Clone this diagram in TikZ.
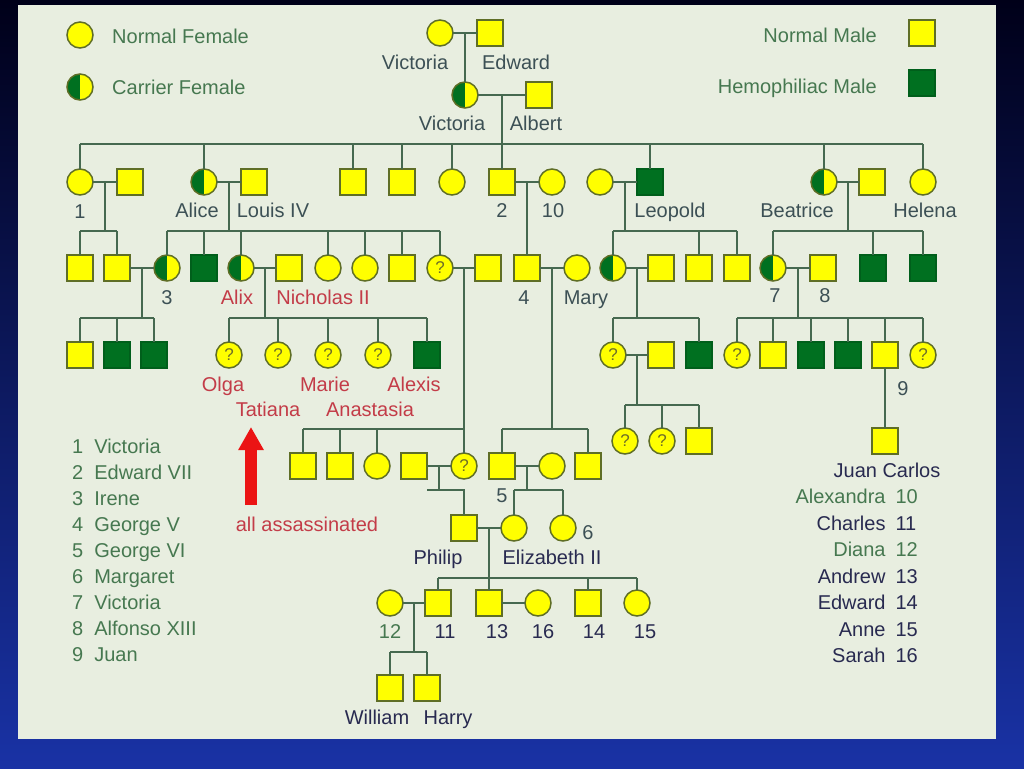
\documentclass[tikz,border=0pt]{standalone}
\usepackage{fontspec}
\setmainfont{Liberation Sans}
\usetikzlibrary{calc}
\usetikzlibrary{arrows.meta}

\definecolor{panel}{RGB}{232,238,224}
\definecolor{ylw}{RGB}{255,255,0}
\definecolor{rim}{RGB}{95,110,38}
\definecolor{hgreen}{RGB}{0,112,32}
\definecolor{wire}{RGB}{70,105,80}
\definecolor{txtgreen}{RGB}{70,120,80}
\definecolor{txtgray}{RGB}{60,80,85}
\definecolor{txtnavy}{RGB}{40,42,80}
\definecolor{txtred}{RGB}{195,60,72}
\definecolor{arrred}{RGB}{235,20,20}
\definecolor{qmark}{RGB}{110,110,40}
\definecolor{bgtop}{RGB}{0,0,25}
\definecolor{bgbot}{RGB}{25,50,165}

\tikzstyle{person}=[draw=rim,line width=1.5pt,fill=ylw,inner sep=0,outer sep=0,minimum size=26pt]
\tikzstyle{male}=[person,rectangle]
\tikzstyle{hemo}=[person,rectangle,fill=hgreen,draw=hgreen!85!black]
\tikzstyle{fem}=[person,circle]
\tikzstyle{carrier}=[fem,path picture={\fill[hgreen] (path picture bounding box.south west) rectangle (path picture bounding box.north);}]
\tikzstyle{unk}=[fem,font=\fontsize{17}{17}\selectfont,text=qmark]
\tikzstyle{link}=[draw=wire,line width=2pt]
\tikzstyle{lbl}=[font=\fontsize{20}{23}\selectfont,inner sep=0,text height=14pt,text depth=0pt]
\tikzstyle{keylist}=[font=\fontsize{20}{26}\selectfont,inner sep=0]

\begin{document}
\begin{tikzpicture}[x=1pt,y=-1pt]
% background and panel
\shade[top color=bgtop,bottom color=bgbot] (0,0) rectangle (1024,768);
\fill[panel] (18,5) rectangle (996,739);

% key
\node[fem] (keyF) at (80,35) {};
\node[carrier] (keyC) at (80,87) {};
\node[male] (keyM) at (922,33) {};
\node[hemo] (keyH) at (922,83) {};
\node[lbl,text=txtgreen,anchor=west] (tKeyF) at (112,37) {Normal Female};
\node[lbl,text=txtgreen,anchor=west] (tKeyC) at (112,87) {Carrier Female};
\node[lbl,text=txtgreen,anchor=east] (tKeyM) at (877,36) {Normal Male};
\node[lbl,text=txtgreen,anchor=east] (tKeyH) at (877,86) {Hemophiliac Male};

% generation I
\node[fem] (vicA) at (440,33) {};
\node[male] (edwA) at (490,33) {};
\node[carrier] (vicB) at (465,95) {};
\node[male] (alb) at (539,95) {};
\draw[link] (vicA) -- (edwA);
\coordinate (mA) at ($(vicA)!0.5!(edwA)$);
\draw[link] (mA) -- (mA |- vicB.north);
\draw[link] (vicB) -- (alb);
\coordinate (mB) at ($(vicB)!0.5!(alb)$);

% generation II
\node[fem] (vicC) at (80,182) {};
\node[male] (fri) at (130,182) {};
\node[carrier] (ali) at (204,182) {};
\node[male] (lou) at (254,182) {};
\node[male] (sA) at (353,182) {};
\node[male] (sB) at (402,182) {};
\node[fem] (dA) at (452,182) {};
\node[male] (edw7) at (502,182) {};
\node[fem] (alx) at (552,182) {};
\node[fem] (leoW) at (600,182) {};
\node[hemo] (leo) at (650,182) {};
\node[carrier] (bea) at (824,182) {};
\node[male] (hen) at (872,182) {};
\node[fem] (hel) at (923,182) {};
\coordinate (barB) at (0,144);
\draw[link] (mB) -- (mB |- edw7.north);
\draw[link] (vicC |- barB) -- (hel |- barB)
  (vicC.north) -- (vicC |- barB) (ali.north) -- (ali |- barB)
  (sA.north) -- (sA |- barB) (sB.north) -- (sB |- barB)
  (dA.north) -- (dA |- barB) (leo.north) -- (leo |- barB)
  (bea.north) -- (bea |- barB) (hel.north) -- (hel |- barB);
\draw[link] (vicC) -- (fri);
\draw[link] (ali) -- (lou);
\draw[link] (edw7) -- (alx);
\draw[link] (leoW) -- (leo);
\draw[link] (bea) -- (hen);
\coordinate (m1) at ($(vicC)!0.5!(fri)$);
\coordinate (m2) at ($(ali)!0.5!(lou)$);
\coordinate (m3) at ($(edw7)!0.5!(alx)$);
\coordinate (m4) at ($(leoW)!0.5!(leo)$);
\coordinate (m5) at ($(bea)!0.5!(hen)$);

% generation III
\node[male] (gA) at (80,268) {};
\node[male] (gB) at (117,268) {};
\node[carrier] (ire) at (167,268) {};
\node[hemo] (hA) at (204,268) {};
\node[carrier] (alix) at (241,268) {};
\node[male] (nic) at (289,268) {};
\node[fem] (dB) at (328,268) {};
\node[fem] (dC) at (365,268) {};
\node[male] (sC) at (402,268) {};
\node[unk] (qA) at (440,268) {?};
\node[male] (pri) at (488,268) {};
\node[male] (geo5) at (527,268) {};
\node[fem] (mar) at (577,268) {};
\node[carrier] (aoa) at (613,268) {};
\node[male] (alg) at (661,268) {};
\node[male] (sD) at (699,268) {};
\node[male] (sE) at (737,268) {};
\node[carrier] (vea) at (773,268) {};
\node[male] (alf) at (823,268) {};
\node[hemo] (hB) at (873,268) {};
\node[hemo] (hC) at (923,268) {};
\coordinate (barC) at (0,231);
\draw[link] (m1) -- (m1 |- barC) (gA |- barC) -- (gB |- barC)
  (gA.north) -- (gA |- barC) (gB.north) -- (gB |- barC);
\draw[link] (m2) -- (m2 |- barC) (ire |- barC) -- (qA |- barC)
  (ire.north) -- (ire |- barC) (hA.north) -- (hA |- barC)
  (alix.north) -- (alix |- barC) (dB.north) -- (dB |- barC)
  (dC.north) -- (dC |- barC) (sC.north) -- (sC |- barC)
  (qA.north) -- (qA |- barC);
\draw[link] (m3) -- (m3 |- geo5.north);
\draw[link] (m4) -- (m4 |- barC) (aoa |- barC) -- (sE |- barC)
  (aoa.north) -- (aoa |- barC) (sD.north) -- (sD |- barC)
  (sE.north) -- (sE |- barC);
\draw[link] (m5) -- (m5 |- barC) (vea |- barC) -- (hC |- barC)
  (vea.north) -- (vea |- barC) (hB.north) -- (hB |- barC)
  (hC.north) -- (hC |- barC);
\draw[link] (gB) -- (ire);
\draw[link] (alix) -- (nic);
\draw[link] (qA) -- (pri);
\draw[link] (geo5) -- (mar);
\draw[link] (aoa) -- (alg);
\draw[link] (vea) -- (alf);
\coordinate (m6) at ($(gB)!0.5!(ire)$);
\coordinate (m7) at ($(alix)!0.5!(nic)$);
\coordinate (m8) at ($(qA)!0.5!(pri)$);
\coordinate (m9) at ($(geo5)!0.5!(mar)$);
\coordinate (m10) at ($(aoa)!0.5!(alg)$);
\coordinate (m11) at ($(vea)!0.5!(alf)$);

% generation IV
\node[male] (kA) at (80,355) {};
\node[hemo] (kB) at (117,355) {};
\node[hemo] (kC) at (154,355) {};
\node[unk] (qB) at (229,355) {?};
\node[unk] (qC) at (278,355) {?};
\node[unk] (qD) at (328,355) {?};
\node[unk] (qE) at (378,355) {?};
\node[hemo] (alexis) at (427,355) {};
\node[unk] (qF) at (613,355) {?};
\node[male] (sF) at (661,355) {};
\node[hemo] (hD) at (699,355) {};
\node[unk] (qG) at (737,355) {?};
\node[male] (sG) at (773,355) {};
\node[hemo] (hE) at (811,355) {};
\node[hemo] (hF) at (848,355) {};
\node[male] (juan) at (885,355) {};
\node[unk] (qH) at (923,355) {?};
\coordinate (barD) at (0,318);
\draw[link] (m6) -- (m6 |- barD) (kA |- barD) -- (kC |- barD)
  (kA.north) -- (kA |- barD) (kB.north) -- (kB |- barD)
  (kC.north) -- (kC |- barD);
\draw[link] (m7) -- (m7 |- barD) (qB |- barD) -- (alexis |- barD)
  (qB.north) -- (qB |- barD) (qC.north) -- (qC |- barD)
  (qD.north) -- (qD |- barD) (qE.north) -- (qE |- barD)
  (alexis.north) -- (alexis |- barD);
\draw[link] (m10) -- (m10 |- barD) (qF |- barD) -- (hD |- barD)
  (qF.north) -- (qF |- barD) (hD.north) -- (hD |- barD);
\draw[link] (m11) -- (m11 |- barD) (qG |- barD) -- (qH |- barD)
  (qG.north) -- (qG |- barD) (sG.north) -- (sG |- barD)
  (hE.north) -- (hE |- barD) (hF.north) -- (hF |- barD)
  (juan.north) -- (juan |- barD) (qH.north) -- (qH |- barD);
\draw[link] (qF) -- (sF);
\coordinate (m12) at ($(qF)!0.5!(sF)$);

\node[unk] (qJ) at (625,441) {?};
\node[unk] (qK) at (662,441) {?};
\node[male] (sH) at (699,441) {};
\node[male] (jc) at (885,441) {};
\coordinate (barG) at (0,405);
\draw[link] (m12) -- (m12 |- barG) (qJ |- barG) -- (sH |- barG)
  (qJ.north) -- (qJ |- barG) (qK.north) -- (qK |- barG)
  (sH.north) -- (sH |- barG);
\draw[link] (juan) -- (jc);

\node[male] (tA) at (303,466) {};
\node[male] (tB) at (340,466) {};
\node[fem] (tC) at (377,466) {};
\node[male] (andG) at (414,466) {};
\node[unk] (qI) at (464,466) {?};
\node[male] (geo6) at (502,466) {};
\node[fem] (eliz) at (552,466) {};
\node[male] (sI) at (588,466) {};
\coordinate (barE) at (0,429);
\draw[link] (m8) -- (m8 |- qI.north) (tA |- barE) -- (qI |- barE)
  (tA.north) -- (tA |- barE) (tB.north) -- (tB |- barE)
  (tC.north) -- (tC |- barE);
\draw[link] (m9) -- (m9 |- barE) (geo6 |- barE) -- (sI |- barE)
  (geo6.north) -- (geo6 |- barE) (sI.north) -- (sI |- barE);
\draw[link] (andG) -- (qI);
\draw[link] (geo6) -- (eliz);
\coordinate (m13) at ($(andG)!0.5!(qI)$);
\coordinate (m14) at ($(geo6)!0.5!(eliz)$);

% Philip and Elizabeth II
\node[male] (phi) at (464,528) {};
\node[fem] (liz) at (514,528) {};
\node[fem] (marg) at (563,528) {};
\coordinate (barF) at (0,490);
\coordinate (stub) at ($(m13 |- barF)+(-12,0)$);
\draw[link] (m13) -- (m13 |- barF) (stub) -- (phi |- barF) -- (phi.north);
\draw[link] (m14) -- (m14 |- barF) (liz |- barF) -- (marg |- barF)
  (liz.north) -- (liz |- barF) (marg.north) -- (marg |- barF);
\draw[link] (phi) -- (liz);
\coordinate (m15) at ($(phi)!0.5!(liz)$);

\node[fem] (dia) at (390,603) {};
\node[male] (cha) at (438,603) {};
\node[male] (andr) at (489,603) {};
\node[fem] (sar) at (538,603) {};
\node[male] (edwd) at (588,603) {};
\node[fem] (ann) at (637,603) {};
\coordinate (barH) at (0,578);
\draw[link] (m15) -- (m15 |- andr.north) (cha |- barH) -- (ann |- barH)
  (cha.north) -- (cha |- barH) (edwd.north) -- (edwd |- barH)
  (ann.north) -- (ann |- barH);
\draw[link] (dia) -- (cha);
\draw[link] (andr) -- (sar);
\coordinate (m16) at ($(dia)!0.5!(cha)$);

\node[male] (wil) at (390,688) {};
\node[male] (har) at (427,688) {};
\coordinate (barI) at (0,652);
\draw[link] (m16) -- (m16 |- barI) (wil |- barI) -- (har |- barI)
  (wil.north) -- (wil |- barI) (har.north) -- (har |- barI);

% names
\node[lbl,text=txtgray] (tVicA) at (415,62) {Victoria};
\node[lbl,text=txtgray] (tEdwA) at (516,62) {Edward};
\node[lbl,text=txtgray] (tVicB) at (452,123) {Victoria};
\node[lbl,text=txtgray] (tAlb) at (536,123) {Albert};
\node[lbl,text=txtgray] (tVicC) at (80,211) {1};
\node[lbl,text=txtgray] (tAli) at (197,210) {Alice};
\node[lbl,text=txtgray] (tLou) at (273,210) {Louis IV};
\node[lbl,text=txtgray] (tEdw7) at (502,210) {2};
\node[lbl,text=txtgray] (tAlx) at (553,210) {10};
\node[lbl,text=txtgray] (tLeo) at (670,210) {Leopold};
\node[lbl,text=txtgray] (tBea) at (797,210) {Beatrice};
\node[lbl,text=txtgray] (tHel) at (925,210) {Helena};
\node[lbl,text=txtgray] (tIre) at (167,297) {3};
\node[lbl,text=txtred] (tAlix) at (237,297) {Alix};
\node[lbl,text=txtred] (tNic) at (323,297) {Nicholas II};
\node[lbl,text=txtgray] (tGeo5) at (524,297) {4};
\node[lbl,text=txtgray] (tMar) at (586,297) {Mary};
\node[lbl,text=txtgray] (tVea) at (775,295) {7};
\node[lbl,text=txtgray] (tAlf) at (825,295) {8};
\node[lbl,text=txtred] (tOlg) at (223,384) {Olga};
\node[lbl,text=txtred] (tMrie) at (325,384) {Marie};
\node[lbl,text=txtred] (tAlexis) at (414,384) {Alexis};
\node[lbl,text=txtred] (tTat) at (268,409) {Tatiana};
\node[lbl,text=txtred] (tAna) at (370,409) {Anastasia};
\node[lbl,text=txtgray] (tJuan) at (903,388) {9};
\node[lbl,text=txtnavy] (tJc) at (887,470) {Juan Carlos};
\node[lbl,text=txtgray] (tGeo6) at (502,495) {5};
\node[lbl,text=txtgray] (tMarg) at (588,532) {6};
\node[lbl,text=txtnavy] (tPhi) at (438,557) {Philip};
\node[lbl,text=txtnavy] (tLiz) at (552,557) {Elizabeth II};
\node[lbl,text=txtgreen] (tDia) at (390,631) {12};
\node[lbl,text=txtnavy] (tCha) at (445,631) {11};
\node[lbl,text=txtnavy] (tAndr) at (497,631) {13};
\node[lbl,text=txtnavy] (tSar) at (543,631) {16};
\node[lbl,text=txtnavy] (tEdwd) at (594,631) {14};
\node[lbl,text=txtnavy] (tAnn) at (645,631) {15};
\node[lbl,text=txtnavy] (tWil) at (377,717) {William};
\node[lbl,text=txtnavy] (tHar) at (448,717) {Harry};

% assassinated
\node[lbl,text=txtred] (tAss) at (307,524) {all assassinated};
\coordinate (arrB) at (251,505);
\coordinate (arrT) at (251,427);
\draw[arrred,line width=12pt,-{Triangle[width=24pt,length=23pt]}] (arrB) -- (arrT);

% number lists
\node[keylist,text=txtgreen,anchor=north west] (keyL) at (72,435) {%
\begin{tabular}{@{}r@{\hspace{11pt}}l@{}}
1 & Victoria\\ 2 & Edward VII\\ 3 & Irene\\ 4 & George V\\ 5 & George VI\\
6 & Margaret\\ 7 & Victoria\\ 8 & Alfonso XIII\\ 9 & Juan
\end{tabular}};
\node[font=\fontsize{20}{26.5}\selectfont,inner sep=0,anchor=north east] (keyR) at (918,485) {%
\begin{tabular}{@{}r@{\hspace{10pt}}l@{}}
\color{txtgreen}Alexandra & \color{txtgreen}10\\
\color{txtnavy}Charles & \color{txtnavy}11\\
\color{txtgreen}Diana & \color{txtgreen}12\\
\color{txtnavy}Andrew & \color{txtnavy}13\\
\color{txtnavy}Edward & \color{txtnavy}14\\
\color{txtnavy}Anne & \color{txtnavy}15\\
\color{txtnavy}Sarah & \color{txtnavy}16
\end{tabular}};
\end{tikzpicture}
\end{document}
